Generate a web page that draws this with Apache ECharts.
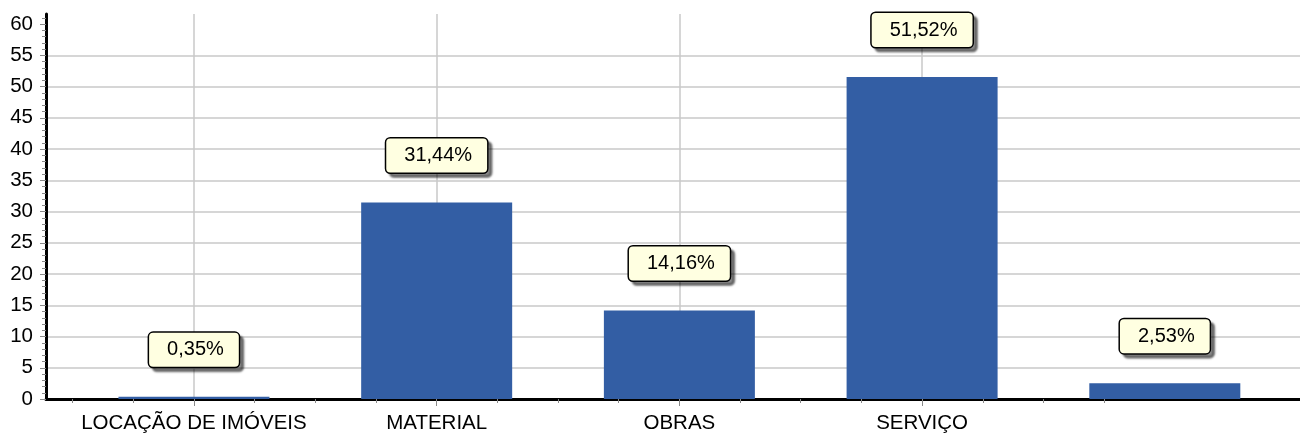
<!DOCTYPE html>
<html>
<head>
<meta charset="utf-8">
<script src="https://cdn.jsdelivr.net/npm/echarts@6/dist/echarts.min.js"></script>
<style>
html,body{margin:0;padding:0;background:#fff;}
#chart{width:1300px;height:437px;}
</style>
</head>
<body>
<div id="chart"></div>
<script>
// Data
const categories = ['LOCAÇÃO DE IMÓVEIS', 'MATERIAL', 'OBRAS', 'SERVIÇO', ''];
const values = [0.35, 31.44, 14.16, 51.52, 2.53];
const yTickLabels = [0, 5, 10, 15, 20, 25, 30, 35, 40, 45, 50, 55, 60];

const FONT = '"Liberation Sans", Arial, sans-serif';
const centers = categories.map((c, i) => i + 0.5);
const quarterTicks = [];
for (let k = 0; k <= 17; k++) quarterTicks.push(k * 0.25);
const minorY = [];
for (let k = 0; k <= 61; k++) minorY.push(k);

const chart = echarts.init(document.getElementById('chart'), null, {renderer: 'canvas'});
const xMin = -0.1096, xMax = 5.057;

chart.setOption({
  animation: false,
  backgroundColor: '#ffffff',
  grid: {left: 46, right: 0, top: 14, bottom: 38, containLabel: false},
  xAxis: [
    {
      type: 'value', min: xMin, max: xMax,
      axisLine: {show: true, onZero: false, lineStyle: {color: '#000', width: 3}},
      axisTick: {show: true, customValues: quarterTicks, length: 4, lineStyle: {color: '#888', width: 1}},
      axisLabel: {show: false},
      splitLine: {show: false}
    },
    {
      type: 'value', min: xMin, max: xMax, position: 'bottom',
      axisLine: {show: false, onZero: false},
      axisTick: {show: true, customValues: centers.slice(0, 4), length: 7, lineStyle: {color: '#888', width: 1}},
      axisLabel: {
        show: true, customValues: centers, margin: 14,
        fontFamily: FONT, fontSize: 20.5, color: '#000',
        formatter: v => categories[Math.round(v - 0.5)] || ''
      },
      splitLine: {show: true, lineStyle: {color: '#c8c8c8', width: 1.5}}
    }
  ],
  yAxis: [
    {
      type: 'value', min: 0, max: 61.6,
      axisLine: {show: true, onZero: false, lineStyle: {color: '#000', width: 3}},
      axisTick: {show: true, customValues: yTickLabels, length: 6, lineStyle: {color: '#888', width: 1}},
      axisLabel: {
        show: true, customValues: yTickLabels, margin: 13,
        fontFamily: FONT, fontSize: 20.5, color: '#000'
      },
      splitLine: {show: true, showMaxLine: false, showMinLine: false, lineStyle: {color: '#c8c8c8', width: 1.5}}
    },
    {
      type: 'value', min: 0, max: 61.6, position: 'left', offset: 0,
      axisLine: {show: false, onZero: false},
      axisTick: {show: true, customValues: minorY, length: 4, lineStyle: {color: '#888', width: 1}},
      axisLabel: {show: false},
      splitLine: {show: false}
    }
  ],
  series: [{
    type: 'bar',
    xAxisIndex: 1,
    yAxisIndex: 0,
    barWidth: 151,
    data: values.map((v, i) => [centers[i], v]),
    itemStyle: {color: '#335ea4'},
    label: {
      show: true,
      position: 'top',
      distance: 30,
      fontFamily: FONT,
      fontSize: 20,
      color: '#000',
      lineHeight: 22,
      backgroundColor: '#ffffe1',
      borderColor: '#000',
      borderWidth: 1.5,
      borderRadius: 4,
      padding: [6, 15, 6, 18],
      shadowColor: 'rgba(0,0,0,0.45)',
      shadowOffsetX: 4,
      shadowOffsetY: 4,
      shadowBlur: 2,
      formatter: p => p.value[1].toFixed(2).replace('.', ',') + '%'
    }
  }]
});
</script>
</body>
</html>
